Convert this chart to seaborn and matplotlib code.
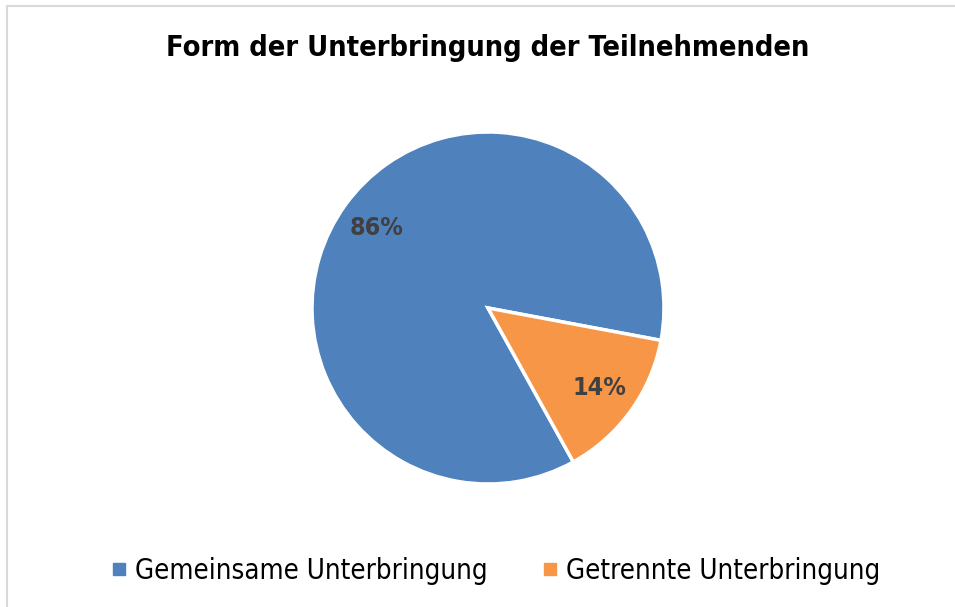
import matplotlib
matplotlib.use("Agg")
import matplotlib.pyplot as plt
import seaborn as sns
from matplotlib.lines import Line2D

# data
categories = ["Gemeinsame Unterbringung", "Getrennte Unterbringung"]
shares = [86, 14]
title = "Form der Unterbringung der Teilnehmenden"

sns.set_theme(style="white")
plt.rcParams["font.family"] = ["DejaVu Sans"]
plt.rcParams["font.stretch"] = "condensed"

colors = sns.color_palette(["#4F81BD", "#F79646"])

fig = plt.figure(figsize=(9.55, 6.07), dpi=100)
fig.patch.set_facecolor("white")

# pie axes: centre ~ (488, 308) px, radius ~176 px
W, H = 955, 607
cx, cy, r = 488, 308, 176
ax = fig.add_axes([(cx - r) / W, (H - cy - r) / H, 2 * r / W, 2 * r / H])
wedges, texts, autotexts = ax.pie(
    shares, colors=colors, startangle=-61, counterclock=False,
    autopct="%1.0f%%", pctdistance=0.78, radius=1,
    wedgeprops=dict(edgecolor="white", linewidth=2.5),
    textprops=dict(color="#404040", fontsize=18, fontweight="bold", fontstretch="condensed"),
)
ax.set_xlim(-1, 1)
ax.set_ylim(-1, 1)
ax.set_aspect("equal")
ax.axis("off")

fig.text(488 / W, 1 - 48 / H, title, ha="center", va="center",
         fontsize=20.8, fontweight="bold", color="black", fontstretch="condensed")

handles = [Line2D([], [], marker="s", linestyle="none", markersize=9,
                  markerfacecolor=c, markeredgecolor=c) for c in colors]
leg = fig.legend(handles, categories, loc="center", bbox_to_anchor=(495 / W, 1 - 571 / H),
                 ncol=2, frameon=False, fontsize=19.8, handletextpad=0.25,
                 columnspacing=1.9, handlelength=0.7)
for t in leg.get_texts():
    t.set_color("black")

# light grey chart-area frame (top and left visible)
fig.add_artist(Line2D([7 / W, 1], [1 - 6 / H, 1 - 6 / H], color="#D9D9D9", linewidth=1.5))
fig.add_artist(Line2D([7 / W, 7 / W], [0, 1 - 6 / H], color="#D9D9D9", linewidth=1.5))

fig.savefig("out.png", dpi=100)
